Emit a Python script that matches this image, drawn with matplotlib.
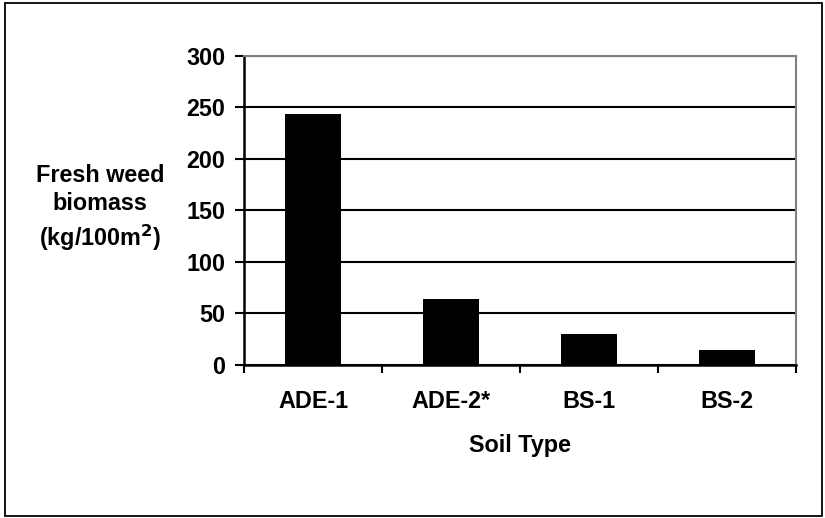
import matplotlib.pyplot as plt
from matplotlib.patches import Rectangle

soils = ["ADE-1", "ADE-2*", "BS-1", "BS-2"]
biomass = [243.5, 64, 30, 15]
y_ticks = [0, 50, 100, 150, 200, 250, 300]

plt.rcParams['font.family'] = ['Liberation Sans', 'DejaVu Sans']
plt.rcParams['font.weight'] = 'bold'
FS = 16.8

fig = plt.figure(figsize=(8.25, 5.18), dpi=100)
ax = fig.add_axes([0.2958, 0.2954, 0.669, 0.5965])

x = range(len(soils))
ax.bar(x, biomass, width=0.41, color='black', zorder=3)
ax.set_xlim(-0.5, len(soils) - 0.5)
ax.set_ylim(0, 300)
ax.set_yticks(y_ticks)
ax.yaxis.grid(True, color='black', linewidth=1.5, zorder=1)

# category boundaries get the tick marks, names sit in between
ax.set_xticks([i - 0.5 for i in range(len(soils) + 1)])
ax.set_xticklabels([])
ax.set_xticks(list(x), minor=True)
ax.set_xticklabels(soils, minor=True, fontsize=FS, fontweight='bold')
ax.tick_params(axis='x', which='minor', length=0, pad=18)
ax.tick_params(axis='x', which='major', length=6, width=1.5, direction='out')
ax.tick_params(axis='y', length=6.5, width=1.5, direction='out', labelsize=FS, pad=7)

for s in ['left', 'bottom']:
    ax.spines[s].set_linewidth(1.8)
    ax.spines[s].set_color('black')
for s in ['top', 'right']:
    ax.spines[s].set_linewidth(1.5)
    ax.spines[s].set_color('#808080')

ax.set_xlabel("Soil Type", fontsize=FS, fontweight='bold', labelpad=15)
fig.text(0.121, 0.598, "Fresh weed\nbiomass\n(kg/100m$\\mathbf{^2}$)", ha='center', va='center',
         fontsize=FS, fontweight='bold', linespacing=1.3)

fig.patches.append(Rectangle((0.0055, 0.004), 0.991, 0.9896, transform=fig.transFigure,
                             fill=False, edgecolor='black', linewidth=1.3))

fig.savefig("out.png", dpi=100)
